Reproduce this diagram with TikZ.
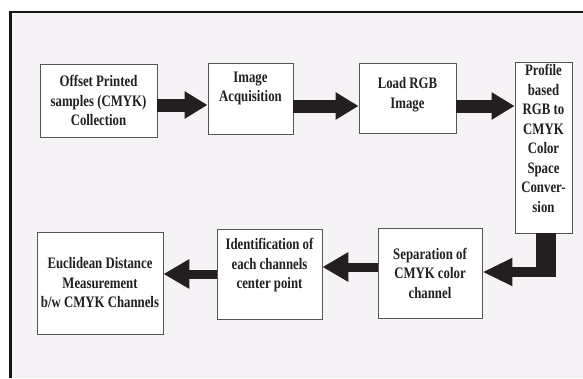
\documentclass[tikz,border=0pt]{standalone}
\usepackage{fontspec}
\setmainfont{Liberation Serif}[FakeStretch=0.8]
\usetikzlibrary{arrows.meta, positioning}
\definecolor{mframe}{HTML}{151515}
\definecolor{mpaper}{HTML}{F5F3F5}
\definecolor{medge}{HTML}{555555}
\definecolor{mink}{HTML}{231F20}
\tikzstyle{stage} = [rectangle, draw=medge, line width=0.9pt, fill=white, inner sep=2pt, align=center, text=mink]
\tikzstyle{fatarrow} = [line width=13pt, draw=mink, -{Triangle[length=23pt, width=26pt]}]
\tikzstyle{slimarrow} = [line width=9pt, draw=mink, -{Triangle[length=26pt, width=28pt]}]

\begin{document}
\begin{tikzpicture}[x=1pt, y=-1pt, font=\fontsize{16}{19.5}\selectfont\bfseries]
  \useasboundingbox (0,0) rectangle (583,378);
  \fill[mpaper] (10.5,12) rectangle (583,378);
  \draw[mframe, line width=2.5pt, line join=miter] (10.5,378) -- (10.5,12) -- (583,12);
  % top row
  \node (osp) [stage, minimum width=117pt, minimum height=73pt] at (98.5,100.5) {Offset Printed\\samples (CMYK)\\Collection};
  \node (acq) [stage, minimum width=85pt, minimum height=71pt, text depth=23pt] at (250.5,98.5) {Image\\Acquisition};
  \node (load) [stage, minimum width=97pt, minimum height=70pt, text depth=10pt] at (407.5,98) {Load RGB\\Image};
  \node (conv) [stage, minimum width=57pt, minimum height=171pt, text depth=18pt] at (543.5,147.5) {Profile\\based\\RGB to\\CMYK\\Color\\Space\\Conver-\\sion};
  % bottom row
  \node (sep) [stage, minimum width=104pt, minimum height=90pt] at (430,273) {Separation of\\CMYK color\\channel};
  \node (ident) [stage, minimum width=105pt, minimum height=90pt, text depth=21pt] at (269.5,274) {Identification of\\each channels\\center point};
  \node (eucl) [stage, minimum width=126pt, minimum height=102pt] at (100,283) {Euclidean Distance\\Measurement\\b/w CMYK Channels};
  \coordinate (row1) at (0,105);
  \coordinate (row2) at (0,106);
  \coordinate (row3) at (0,267);
  \coordinate (row4) at (0,274);
  \coordinate (bendv) at (546,277);
  \coordinate (bendh) at (556,272);
  \draw [fatarrow] (osp.east |- row1) -- (acq.west |- row1);
  \draw [fatarrow] (acq.east |- row2) -- (load.west |- row2);
  \draw [fatarrow] (load.east |- row2) -- (conv.west |- row2);
  \draw [mink, line width=20pt] (conv.south -| bendv) -- (bendv);
  \draw [line width=10pt, draw=mink, -{Triangle[length=30pt, width=26pt]}] (bendh) -- (bendh -| sep.east);
  \draw [slimarrow] (sep.west |- row3) -- (ident.east |- row3);
  \draw [slimarrow] (ident.west |- row4) -- (eucl.east |- row4);
\end{tikzpicture}
\end{document}
